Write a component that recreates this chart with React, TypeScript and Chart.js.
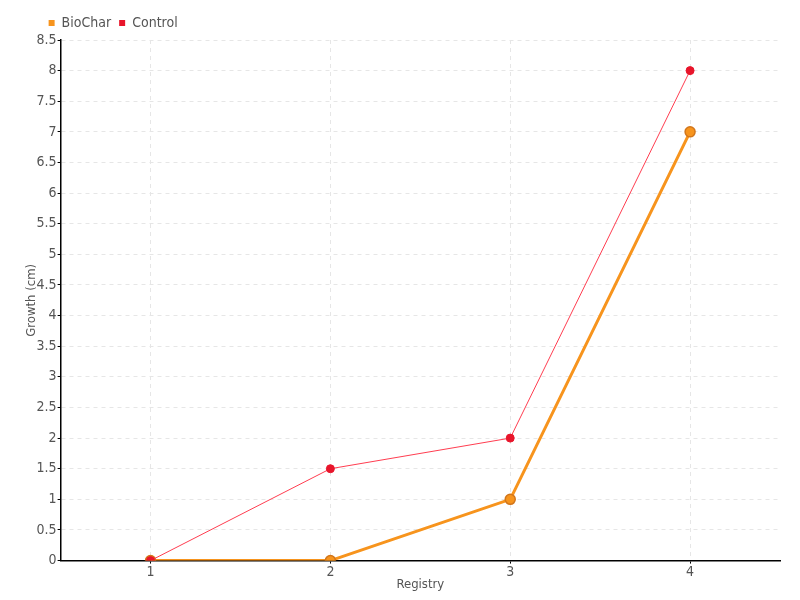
import React, { useEffect, useRef } from "react";
import { Chart, registerables } from "chart.js";

Chart.register(...registerables);

const categories = ["1", "2", "3", "4"];
const bioCharValues = [0, 0, 1, 7];
const controlValues = [0, 1.5, 2, 8];
const yMin = 0;
const yMax = 8.5;
const yStep = 0.5;
const xTitle = "Registry";
const yTitle = "Growth (cm)";

const FONT = "'DejaVu Sans Condensed', 'Liberation Sans Narrow', 'Roboto', sans-serif";
const TEXT = "#555555";

const legendShift = {
  id: "legendShift",
  afterLayout(chart: any) {
    const lg = chart.legend;
    if (lg) {
      lg.left = chart.chartArea.left - 20;
    }
  },
};

export default function App() {
  const ref = useRef<HTMLCanvasElement | null>(null);
  useEffect(() => {
    if (!ref.current) return;
    const chart = new Chart(ref.current, {
      type: "line",
      data: {
        labels: categories,
        datasets: [
          {
            label: "BioChar",
            data: bioCharValues,
            borderColor: "#f7941d",
            backgroundColor: "#f7941d",
            borderWidth: 3,
            pointRadius: 5,
            pointBackgroundColor: "#f7941d",
            pointBorderColor: "#d2761b",
            pointBorderWidth: 1.5,
            tension: 0,
            order: 2,
          },
          {
            label: "Control",
            data: controlValues,
            borderColor: "#ff3d50",
            backgroundColor: "#e8152b",
            borderWidth: 1,
            pointRadius: 4,
            pointBackgroundColor: "#e8152b",
            pointBorderColor: "#e8152b",
            pointBorderWidth: 1,
            tension: 0,
            order: 1,
          },
        ],
      },
      plugins: [legendShift],
      options: {
        animation: false,
        responsive: true,
        maintainAspectRatio: false,
        layout: { padding: { left: 16, right: 12, top: 0, bottom: 0 } },
        font: { family: FONT, size: 14 },
        plugins: {
          tooltip: { enabled: false },
          legend: {
            position: "top",
            align: "start",
            labels: {
              usePointStyle: true,
              pointStyle: "rect",
              boxWidth: 6,
              boxHeight: 6,
              padding: 8,
              color: TEXT,
              font: { family: FONT, size: 14 },
              generateLabels: (chart: any) =>
                chart.data.datasets.map((ds: any, i: number) => ({
                  text: ds.label,
                  fillStyle: ds.pointBackgroundColor,
                  strokeStyle: ds.pointBackgroundColor,
                  lineWidth: 0,
                  pointStyle: "rect",
                  hidden: !chart.isDatasetVisible(i),
                  datasetIndex: i,
                  fontColor: TEXT,
                })),
            },
          },
        },
        scales: {
          x: {
            type: "category",
            offset: true,
            title: {
              display: true,
              text: xTitle,
              color: TEXT,
              font: { family: FONT, size: 13 },
              padding: { top: -4, bottom: 0 },
            },
            grid: {
              offset: false,
              color: "#e6e6e6",
              lineWidth: 1,
              drawTicks: true,
              tickLength: 3,
              tickColor: "#000000",
              tickBorderDash: [],
            },
            border: { display: true, color: "#000000", width: 1.5, dash: [4, 4] },
            ticks: { color: TEXT, font: { family: FONT, size: 14 }, padding: 0 },
          },
          y: {
            min: yMin,
            max: yMax,
            title: {
              display: true,
              text: yTitle,
              color: TEXT,
              font: { family: FONT, size: 13 },
              padding: { top: 0, bottom: -4 },
            },
            grid: {
              color: "#e6e6e6",
              lineWidth: 1,
              drawTicks: true,
              tickLength: 3,
              tickColor: "#000000",
              tickBorderDash: [],
            },
            border: { display: true, color: "#000000", width: 1.5, dash: [4, 4] },
            ticks: {
              stepSize: yStep,
              color: TEXT,
              font: { family: FONT, size: 14 },
              padding: 1,
              callback: (v: any) => String(+v),
            },
          },
        },
      } as any,
    });
    return () => chart.destroy();
  }, []);
  return (
    <div style={{ position: "relative", width: 784, height: 584 }}>
      <canvas ref={ref} />
    </div>
  );
}
